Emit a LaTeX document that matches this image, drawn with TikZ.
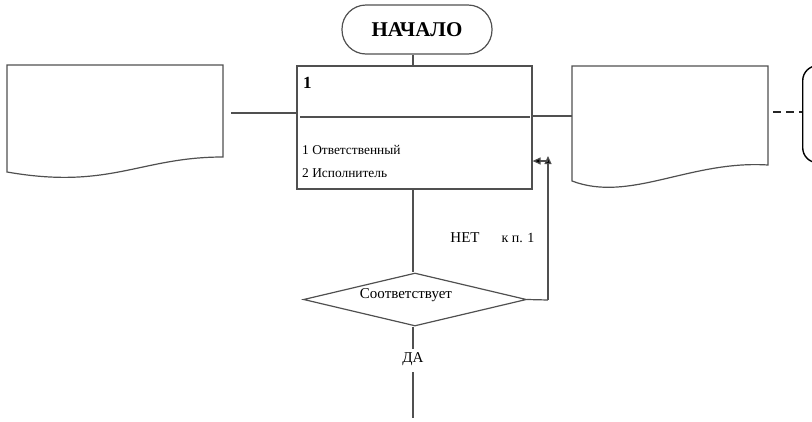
\documentclass[tikz,border=0pt]{standalone}
\usepackage{fontspec}
\setmainfont{Liberation Serif}
\usetikzlibrary{shapes.geometric,arrows.meta}
\definecolor{ln}{HTML}{505050}
\tikzset{
  ln/.style={draw=ln, line width=1.2pt},
  docshape/.style={ln, fill=white},
  lbl/.style={inner sep=0pt, font=\fontsize{14}{16}\selectfont},
  arr/.style={-{Triangle[length=8pt,width=7pt,fill=black]}, ln}
}
\begin{document}
\begin{tikzpicture}[x=1pt,y=-1pt]
\useasboundingbox (0,0) rectangle (812,421);
\clip (0,0) rectangle (812,421);
% axis of the vertical connectors
\coordinate (ax) at (413,0);
% terminal
\node[ln, rounded corners=24pt, minimum width=150pt, minimum height=49pt, inner sep=0pt,
      font=\fontsize{21}{24}\selectfont\bfseries] (start) at (417,29.5) {НАЧАЛО};
% main box
\node[ln, minimum width=235pt, minimum height=123pt, inner sep=0pt] (main) at (414.5,127.5) {};
\draw[ln] ([xshift=4pt]main.west |- 0,117) coordinate (sepL) -- ([xshift=-3pt]main.east |- 0,117) coordinate (sepR);
\node[lbl, anchor=west, font=\fontsize{17}{18}\selectfont\bfseries] (num) at (303,83) {1};
\node[lbl, anchor=west, font=\fontsize{13.4}{15}\selectfont] (r1) at (302,150) {1 Ответственный};
\node[lbl, anchor=west, font=\fontsize{13.4}{15}\selectfont] (r2) at (302,173) {2 Исполнитель};
\draw[ln] (start.south -| ax) -- (main.north -| ax);
% left document
\coordinate (ldTL) at (7,65);
\coordinate (ldTR) at (223,65);
\coordinate (ldBR) at (223,157);
\coordinate (ldBL) at (7,172);
\draw[docshape] (ldTL) -- (ldTR) -- (ldBR) .. controls (140,157) and (110,190) .. (ldBL) -- cycle;
% right document
\coordinate (rdTL) at (572,66);
\coordinate (rdTR) at (768,66);
\coordinate (rdBR) at (768,165);
\coordinate (rdBL) at (572,181);
\draw[docshape] (rdTL) -- (rdTR) -- (rdBR) .. controls (690,160) and (630,203) .. (rdBL) -- cycle;
% connectors to documents
\coordinate (lcA) at (231,113);
\draw[ln] (lcA) -- (main.west |- lcA);
\draw[ln] (main.east |- 0,116) -- (rdTL |- 0,116);
% right rounded box
\node[draw=black, line width=1.4pt, rounded corners=15pt, minimum width=80pt, minimum height=97pt, anchor=north west, inner sep=0pt] (ext) at (802,65) {};
\coordinate (dashA) at (773,112);
\draw[black!85, line width=1.8pt, dash pattern=on 8pt off 5pt] (dashA) -- (ext.west |- dashA);
% decision
\node[ln, shape=diamond, minimum width=223pt, minimum height=53pt, aspect=4.2, inner sep=0pt] (dec) at (415,299.5) {};
\node[lbl, font=\fontsize{15}{17}\selectfont] (dect) at (406,295) {Соответствует};
\draw[ln] (main.south -| ax) -- (dec.north -| ax);
% NO branch
\coordinate (loopB) at (548,300);
\coordinate (loopT) at (548,156);
\coordinate (arrS) at (548,161);
\draw[ln] (dec.east) -- (loopB);
\draw[arr] (loopB) -- (loopT);
\draw[arr] (arrS) -- (main.east |- arrS);
\node[lbl, font=\fontsize{15}{17}\selectfont] (net) at (465,238) {НЕТ};
\node[lbl, font=\fontsize{14}{16}\selectfont] (kp) at (518,238) {к п. 1};
% YES branch
\node[lbl, font=\fontsize{15}{17}\selectfont] (da) at (413,359) {ДА};
\coordinate (daT) at (413,349);
\coordinate (daB) at (413,372);
\coordinate (endY) at (413,418);
\draw[ln] (dec.south -| ax) -- (daT);
\draw[ln] (daB) -- (endY);
\end{tikzpicture}
\end{document}
